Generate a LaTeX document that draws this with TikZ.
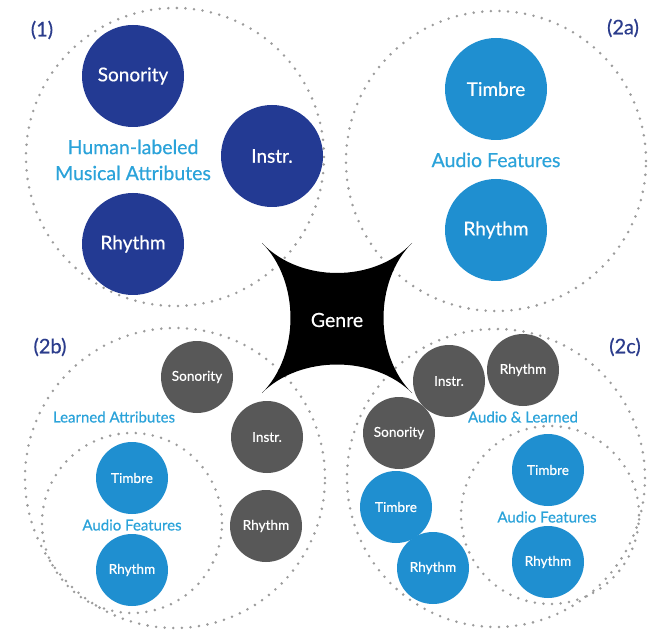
\documentclass[tikz,border=0pt]{standalone}
\usepackage{fontspec}
\setmainfont{Lato}[FakeBold=0.5]
\begin{document}
\begin{tikzpicture}[x=1pt,y=-1pt]
\definecolor{dblue}{HTML}{233A93}
\definecolor{lblue}{HTML}{1F8FD0}
\definecolor{lbltxt}{HTML}{2BA3DA}
\definecolor{dgray}{HTML}{585858}
\definecolor{dotc}{HTML}{9C9C9C}
\definecolor{paneltxt}{HTML}{2B3C8C}
\tikzset{
  dotring/.style={circle, draw=dotc, line width=2.8pt, line cap=round, dash pattern=on 0pt off 8.6pt, inner sep=0pt},
  bigdb/.style={circle, fill=dblue, minimum size=102pt, inner sep=0pt, text=white, font=\fontsize{19}{22}\selectfont},
  biglb/.style={circle, fill=lblue, minimum size=102pt, inner sep=0pt, text=white, font=\fontsize{19}{22}\selectfont},
  smgray/.style={circle, fill=dgray, minimum size=72pt, inner sep=0pt, text=white, font=\fontsize{13.6}{16}\selectfont},
  smlb/.style={circle, fill=lblue, minimum size=72pt, inner sep=0pt, text=white, font=\fontsize{13.6}{16}\selectfont},
  grplabel/.style={text=lbltxt, align=center, font=\fontsize{19.5}{26}\selectfont},
  smlabel/.style={text=lbltxt, align=center, font=\fontsize{15}{18}\selectfont},
  panel/.style={text=paneltxt, font=\fontsize{20}{24}\selectfont}
}
\useasboundingbox (0,0) rectangle (659,631);
\fill[white] (0,0) rectangle (659,631);

% dotted rings
\node[dotring, minimum size=298pt] (ring1) at (175,157) {};
\node[dotring, minimum size=300pt] (ring2a) at (496,161) {};
\node[dotring, minimum size=300pt] (ring2b) at (175,478) {};
\node[dotring, minimum size=180pt] (ring2bin) at (132,523) {};
\node[dotring, minimum size=298pt] (ring2c) at (496,478) {};
\node[dotring, minimum size=178pt] (ring2cin) at (550,515) {};

% genre star
\fill[black] (262,243) .. controls (300,283) and (374,283) .. (412,243)
  .. controls (374,281) and (374,355) .. (412,393)
  .. controls (374,355) and (300,355) .. (262,393)
  .. controls (300,355) and (300,281) .. cycle;
\node[text=white, font=\fontsize{19.5}{22}\selectfont] (genre) at (337,320) {Genre};

% panel labels
\node[panel] (p1) at (42,30) {(1)};
\node[panel] (p2a) at (623,28) {(2a)};
\node[panel] (p2b) at (50,347) {(2b)};
\node[panel] (p2c) at (625,347) {(2c)};

% (1)
\node[bigdb] (son1) at (133,76) {Sonority};
\node[bigdb] (ins1) at (272,156) {Instr.};
\node[bigdb] (rhy1) at (133,244) {Rhythm};
\node[grplabel] (hl) at (133,160) {Human-labeled\\Musical Attributes};

% (2a)
\node[biglb] (tim2a) at (496,89) {Timbre};
\node[biglb] (rhy2a) at (496,230) {Rhythm};
\node[grplabel] (af2a) at (496,160) {Audio Features};

% (2b)
\node[smgray] (son2b) at (197,377) {Sonority};
\node[smgray] (ins2b) at (267,437) {Instr.};
\node[smgray] (rhy2b) at (266,526) {Rhythm};
\node[smlabel] (la2b) at (114,417) {Learned Attributes};
\node[smlb] (tim2b) at (132,478) {Timbre};
\node[smlb] (rhy2bb) at (132,570) {Rhythm};
\node[smlabel] (af2b) at (132,525) {Audio Features};

% (2c)
\node[smgray] (ins2c) at (449,381) {Instr.};
\node[smgray] (rhy2c) at (523,370) {Rhythm};
\node[smgray] (son2c) at (399,433) {Sonority};
\node[smlabel] (al2c) at (523,417) {Audio \& Learned};
\node[smlb] (tim2c) at (396,507) {Timbre};
\node[smlb] (rhy2cl) at (433,568) {Rhythm};
\node[smlb] (tim2ci) at (548,470) {Timbre};
\node[smlb] (rhy2ci) at (548,562) {Rhythm};
\node[smlabel] (af2c) at (547,517) {Audio Features};
\end{tikzpicture}
\end{document}
